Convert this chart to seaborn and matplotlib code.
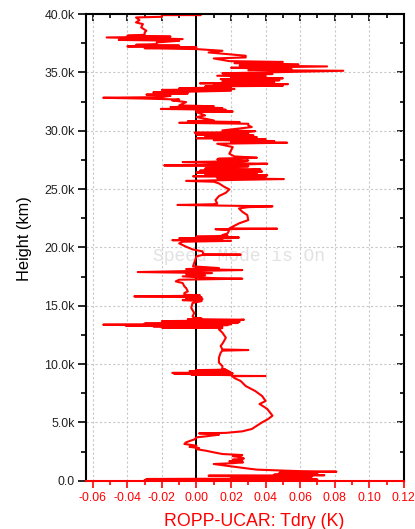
import matplotlib
matplotlib.use("Agg")
import matplotlib.pyplot as plt
import seaborn as sns
import pandas as pd
from matplotlib.ticker import MultipleLocator, FixedLocator, FixedFormatter, NullFormatter

# ---- data (height in m, difference in K) ----
height = [
    0, 60, 100, 146, 200, 260, 300, 374, 430, 470, 520, 600, 680, 774, 820, 860, 950, 1000,
    1140, 1290, 1431, 1500, 1580, 1660, 1720, 1800, 1900, 2003, 2100, 2200, 2288, 2430, 2574,
    2700, 2800, 2900, 3000, 3150, 3288, 3400, 3550, 3717, 3803, 3945, 4000, 4060, 4100, 4231,
    4431, 4717, 5003, 5288, 5574, 5860, 6145, 6345, 6574,
    6831, 7259, 7688, 8116, 8545, 8800, 8960, 8975, 8990,
    9050, 9100, 9130, 9170, 9200, 9240, 9280, 9320, 9360, 9400, 9440, 9480, 9520, 9570,
    9831, 10116, 10545, 10973, 11150, 11202, 11250, 11545, 11830, 12259, 12688, 12973,
    13100, 13130, 13180, 13231, 13260, 13300, 13340, 13374, 13420, 13470, 13520, 13570,
    13620, 13680, 13740, 13802, 13850, 13900, 13945,
    14088, 14374, 14802, 15231, 15400, 15480, 15560, 15650, 15720, 15802, 15850, 15900, 15945,
    16088, 16231, 16517, 16660, 16945, 17088,
    17231, 17317, 17374, 17517, 17603, 17717, 17802, 17888, 17945, 18060, 18145, 18231, 18374,
    19231, 19374, 19380, 19400, 19660, 19830,
    20059, 20345, 20488, 20560, 20620, 20700, 20780, 20850, 20920, 21000, 21059,
    21202, 21488, 21560, 21600, 21630, 22059, 22344, 22773, 23059, 23345,
    23450, 23520, 23580, 23640, 23700, 23773,
    24059, 24402, 24687, 24973, 25202, 25487,
    25630, 25700, 25780, 25860, 25940, 26020, 26100, 26180, 26260, 26340, 26420, 26500, 26580,
    26630, 26688, 26760, 26888, 26950, 27030, 27100, 27173, 27240, 27316, 27390, 27459, 27540,
    27620, 27688, 27800, 28030, 28316, 28602, 28888, 28973,
    29050, 29120, 29200, 29280, 29360, 29440, 29520, 29600, 29680, 29760, 29830, 29900, 29970,
    30030, 30316, 30459,
    30600, 30680, 30750, 30820, 30888, 31173, 31316, 31602,
    31650, 31720, 31800, 31870, 31950, 32030, 32100, 32173, 32459,
    32600, 32680, 32760, 32830, 32887, 33000, 33100, 33200, 33287,
    33430, 33500, 33580, 33650, 33716, 33800, 33859, 33930, 34000, 34070, 34144,
    34250, 34330, 34430, 34500, 34580, 34650, 34716, 34860, 34930, 35001, 35144, 35200,
    35300, 35400, 35515, 35600, 35700, 35800, 35900, 35970, 36200, 36287, 36430, 36715,
    36858, 37001, 37080, 37160, 37230, 37300, 37370, 37430, 37573,
    37715, 37790, 37860, 37930, 38000, 38070, 38150, 38230, 38430, 38572, 38858, 39144,
    39287, 39487, 39715, 39772, 39915, 39920, 39950,
]
tdry_diff = [
    0.002, -0.030, 0.070, -0.029, 0.060, 0.020, 0.065, 0.067, 0.007, 0.074, 0.045, 0.070, 0.048,
    0.081, 0.060, 0.0515, 0.035, 0.032,
    0.0246, 0.017, 0.010, 0.021, 0.027, 0.019, 0.0265, 0.021, 0.0275, 0.026, 0.021, 0.0265, 0.015,
    0.010, 0.0054,
    0.000, 0.0015, -0.004, 0.000, -0.007, -0.006, -0.004, -0.001, 0.000, 0.0054, 0.013, 0.011,
    0.0015, 0.017, 0.0265,
    0.032, 0.035, 0.038, 0.0415, 0.044, 0.0425, 0.041, 0.039, 0.0365,
    0.040, 0.038, 0.034, 0.0285, 0.0256, 0.022, 0.0208, 0.040, 0.021,
    0.020, -0.003, 0.020, -0.013, 0.021, -0.014, 0.020, -0.002, 0.019, -0.004, 0.018, 0.000,
    0.017, 0.015,
    0.015, 0.013, 0.013, 0.014, 0.015, 0.030, 0.015, 0.014, 0.0154, 0.017, 0.015, 0.013,
    0.015, -0.020, 0.014, -0.025, 0.015, -0.041, 0.018, -0.054, 0.020, -0.030, 0.024, -0.015,
    0.025, -0.020, 0.022, 0.0275, -0.005, 0.003, -0.001,
    -0.0023, -0.0013, -0.003, -0.0023, 0.003, -0.008, 0.0035, -0.006, 0.003, -0.036, -0.005,
    0.002, -0.007,
    -0.007, -0.005, -0.006, -0.007, -0.008, -0.012,
    -0.010, 0.0265, 0.009, -0.008, 0.005, -0.006, 0.009, -0.034, -0.014, 0.0265, -0.006, 0.013,
    -0.002,
    0.000, 0.004, 0.0256, 0.004, 0.0035, -0.0023,
    -0.006, -0.010, -0.008, 0.020, -0.014, 0.015, -0.010, 0.0246, 0.000, 0.018, 0.015,
    0.018, 0.019, 0.011, 0.0467, 0.019, 0.0246, 0.030, 0.0294, 0.0265, 0.0246,
    0.030, 0.044, 0.015, -0.011, 0.010, 0.012,
    0.011, 0.013, 0.017, 0.019, 0.016, 0.013,
    0.010, -0.006, 0.020, 0.0506, 0.012, 0.040, -0.002, 0.041, 0.005, 0.035, 0.000, 0.038, 0.002,
    0.030, 0.037, 0.005, 0.017, 0.030, -0.0187, 0.025, 0.041, 0.010, -0.008, 0.028, 0.030, 0.012,
    0.013, 0.035, 0.022, 0.019, 0.020, 0.021, 0.012, 0.0525,
    0.020, 0.045, 0.010, 0.040, 0.000, 0.035, 0.005, 0.033, 0.000, 0.030, -0.001, 0.030, 0.034,
    0.015, 0.032, 0.030,
    0.030, -0.010, 0.025, -0.005, 0.010, 0.000, 0.005, 0.000,
    0.021, 0.000, 0.017, -0.0206, 0.015, -0.015, 0.010, -0.010, -0.006,
    -0.014, -0.010, -0.030, -0.054, -0.020, -0.015, -0.029, -0.005, -0.025,
    0.020, -0.020, 0.022, -0.010, 0.020, 0.005, 0.050, 0.010, 0.053, 0.002, 0.045,
    0.015, 0.048, 0.014, 0.050, 0.020, 0.040, 0.012, 0.044, 0.015, 0.040, 0.085, 0.030,
    0.055, 0.020, 0.0756, 0.025, 0.059, 0.022, 0.050, 0.019, 0.010, 0.0285, 0.0285, 0.007,
    0.015, 0.000, -0.030, 0.000, -0.040, -0.010, -0.035, -0.023, -0.023,
    -0.010, -0.045, -0.008, -0.030, -0.052, -0.015, -0.040, -0.030, -0.030, -0.029, -0.032,
    -0.031,
    -0.035, -0.033, -0.035, -0.020, -0.020, 0.0025, -0.0195,
]

x_ticks = [-0.06, -0.04, -0.02, 0.00, 0.02, 0.04, 0.06, 0.08, 0.10, 0.12]
x_tick_labels = ["-0.06", "-0.04", "-0.02", "0.00", "0.02", "0.04", "0.06", "0.08", "0.10", "0.12"]
y_ticks = [0, 5000, 10000, 15000, 20000, 25000, 30000, 35000, 40000]
y_tick_labels = ["0.0", "5.0k", "10.0k", "15.0k", "20.0k", "25.0k", "30.0k", "35.0k", "40.0k"]
x_label = "ROPP-UCAR: Tdry (K)"
y_label = "Height (km)"
watermark = "Speed Mode is On"

df = pd.DataFrame({"height": height, "diff": tdry_diff})

sns.set_style("white")
plt.rcParams["font.family"] = ["Liberation Sans", "DejaVu Sans"]

RED = "#ff0000"
fig = plt.figure(figsize=(4.15, 5.29), dpi=100)
ax = fig.add_axes([0.207, 0.0913, 0.766, 0.882])

ax.grid(True, which="major", color="#c8c8c8", linestyle=(0, (2, 2)), linewidth=0.8)
ax.set_axisbelow(True)

ax.axvline(0, color="black", linewidth=1.4, zorder=1.5)
sns.lineplot(data=df, x="diff", y="height", sort=False, estimator=None, orient="y",
             color=RED, linewidth=1.5, ax=ax, zorder=2)

ax.set_xlim(-0.064, 0.12)
ax.set_ylim(0, 40000)

ax.xaxis.set_major_locator(FixedLocator(x_ticks))
ax.xaxis.set_major_formatter(FixedFormatter(x_tick_labels))
ax.xaxis.set_minor_locator(MultipleLocator(0.01))
ax.yaxis.set_major_locator(FixedLocator(y_ticks))
ax.yaxis.set_major_formatter(FixedFormatter(y_tick_labels))
ax.yaxis.set_minor_locator(MultipleLocator(2500))

for side in ["left", "top", "right"]:
    ax.spines[side].set_color("black")
    ax.spines[side].set_linewidth(1.5)
    ax.spines[side].set_visible(True)
ax.spines["bottom"].set_color(RED)
ax.spines["bottom"].set_linewidth(1.5)

# bottom / left ticks (outward)
ax.tick_params(axis="x", which="both", bottom=True, top=False, colors=RED, labelsize=8.7,
               width=1.2, pad=3, direction="out")
ax.tick_params(axis="x", which="major", length=5)
ax.tick_params(axis="x", which="minor", length=3)
ax.tick_params(axis="y", which="both", left=True, right=False, labelsize=8.9, width=1.2,
               labelcolor="#222222", color="black", pad=2, direction="out")
ax.tick_params(axis="y", which="major", length=6)
ax.tick_params(axis="y", which="minor", length=3.5)

# top / right ticks (inward, black, no labels)
top = ax.secondary_xaxis("top")
top.spines["top"].set_visible(False)
top.xaxis.set_major_locator(FixedLocator(x_ticks))
top.xaxis.set_minor_locator(MultipleLocator(0.01))
top.xaxis.set_major_formatter(NullFormatter())
top.tick_params(axis="x", which="both", direction="in", color="black", width=1.2)
top.tick_params(axis="x", which="major", length=5)
top.tick_params(axis="x", which="minor", length=3)

right = ax.secondary_yaxis("right")
right.spines["right"].set_visible(False)
right.yaxis.set_major_locator(FixedLocator(y_ticks))
right.yaxis.set_minor_locator(MultipleLocator(2500))
right.yaxis.set_major_formatter(NullFormatter())
right.tick_params(axis="y", which="both", direction="in", color="black", width=1.2)
right.tick_params(axis="y", which="major", length=5)
right.tick_params(axis="y", which="minor", length=3)

ax.set_xlabel(x_label, color=RED, fontsize=12.8)
ax.xaxis.set_label_coords(0.528, -0.069)
ax.set_ylabel(y_label, color="black", fontsize=11.8)
ax.yaxis.set_label_coords(-0.17, 0.519)

ax.text(0.483, 0.481, watermark, transform=ax.transAxes, ha="center", va="center",
        fontsize=13, family="Liberation Mono", color="#e2e2e2", zorder=1)

fig.savefig("out.png", dpi=100)
